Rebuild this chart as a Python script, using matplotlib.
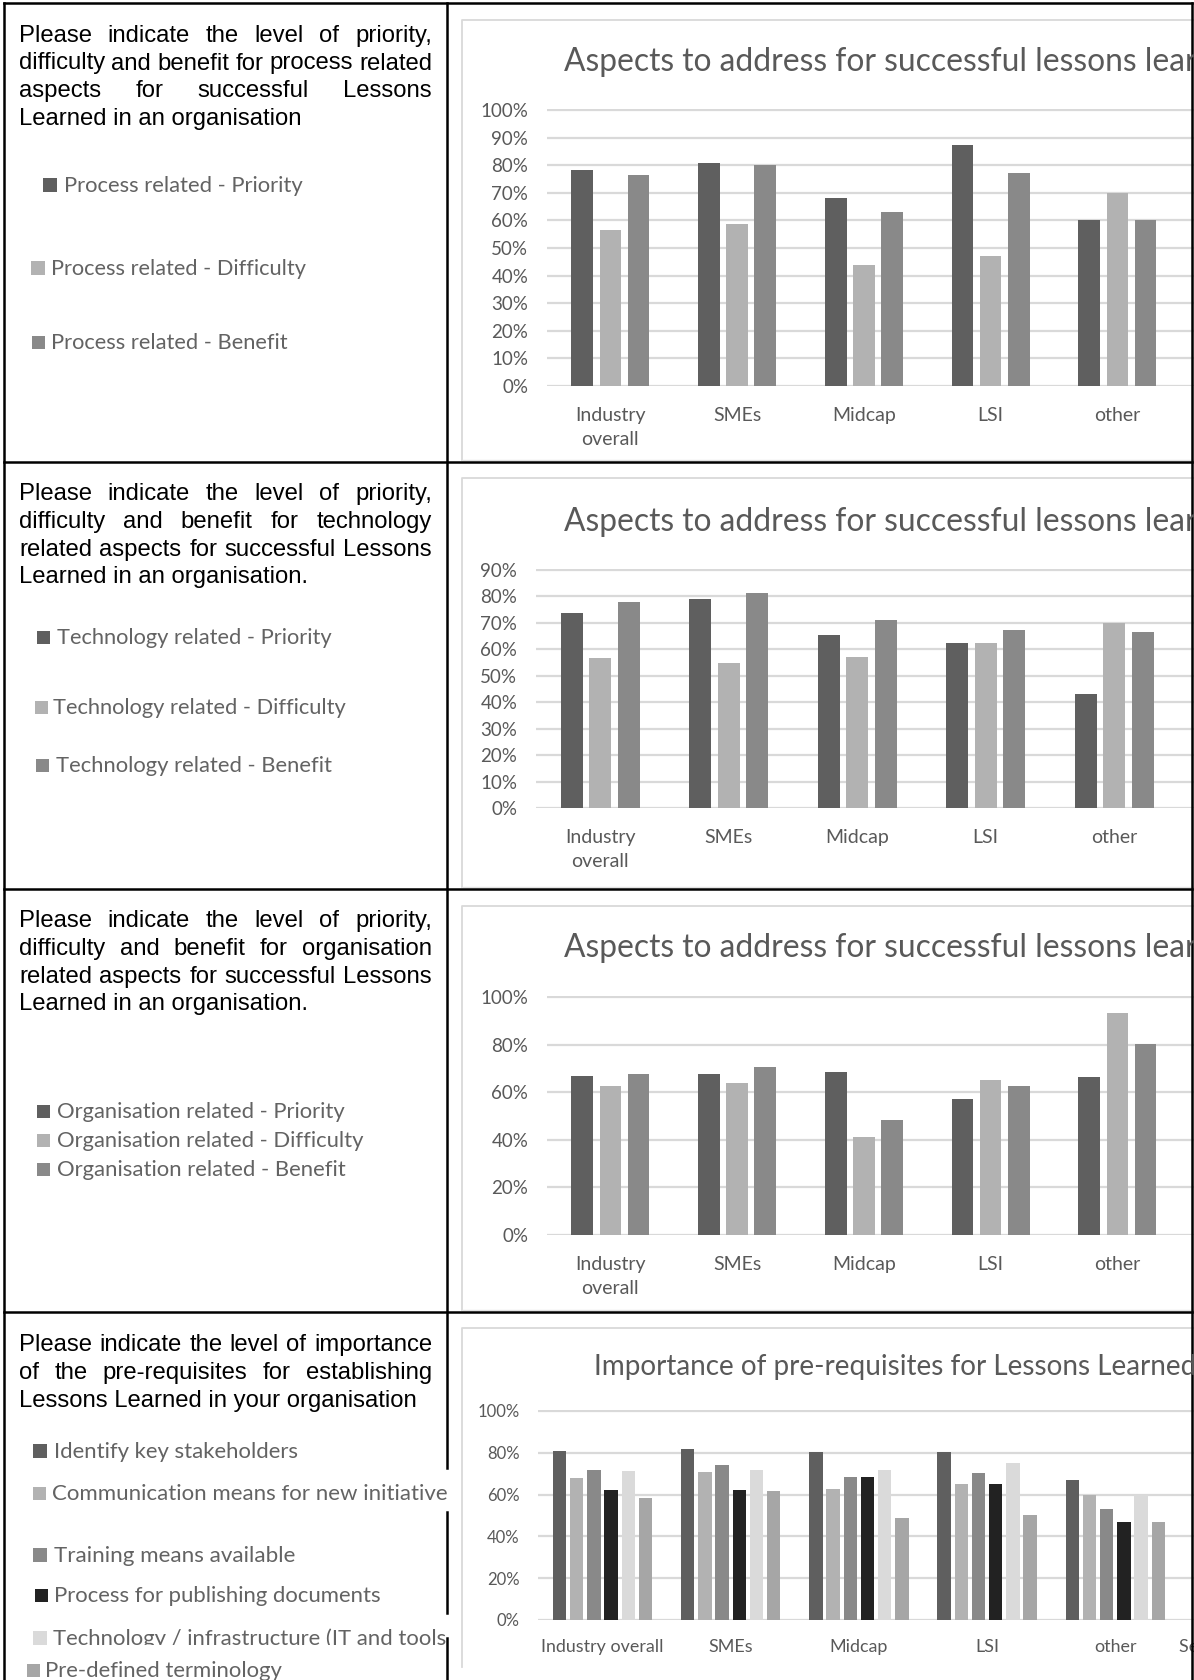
import matplotlib
matplotlib.use("Agg")
import matplotlib.pyplot as plt
import numpy as np
from matplotlib.patches import Rectangle
from matplotlib.ticker import PercentFormatter
from matplotlib.transforms import Bbox

W, H = 1194, 1680

# survey data (% of respondents); the last group sits past the right edge
groups_wrapped = ["Industry\noverall", "SMEs", "Midcap", "LSI", "other", ""]
groups = ["Industry overall", "SMEs", "Midcap", "LSI", "other", "Service provider"]

process_priority = [78.4, 81.0, 68.3, 87.3, 60.0]
process_difficulty = [56.6, 58.7, 44.0, 47.3, 70.0]
process_benefit = [76.4, 80.1, 62.9, 77.2, 60.0]

technology_priority = [73.7, 79.0, 65.5, 62.3, 43.1]
technology_difficulty = [56.7, 54.9, 57.1, 62.3, 69.8]
technology_benefit = [77.7, 81.1, 71.1, 67.2, 66.3]

organisation_priority = [66.9, 67.5, 68.5, 57.3, 66.5]
organisation_difficulty = [62.6, 64.0, 41.3, 65.1, 93.3]
organisation_benefit = [67.5, 70.4, 48.5, 62.6, 80.2]

identify_stakeholders = [80.6, 81.6, 80.2, 80.2, 66.7]
communication_means = [68.1, 70.6, 62.7, 65.1, 60.0]
training_means = [71.7, 74.1, 68.6, 70.2, 53.3]
publishing_process = [62.2, 62.2, 68.6, 65.1, 46.7]
technology_infrastructure = [71.1, 71.7, 71.7, 75.1, 60.0]
predefined_terminology = [58.1, 61.6, 48.6, 50.2, 46.7]

grey3 = ["#5f5f5f", "#b2b2b2", "#898989"]
grey6 = ["#5f5f5f", "#b2b2b2", "#898989", "#222222", "#dadada", "#a6a6a6"]

CHART_FONT = "Lato"
TEXT_COLOR = "#595959"
LEGEND_COLOR = "#636363"

fig = plt.figure(figsize=(W / 100, H / 100), dpi=100)
renderer = fig.canvas.get_renderer()


def fx(x):
    return x / W


def fy(y):
    return 1 - y / H


def px_box(x, y, w, h):
    return [x / W, 1 - (y + h) / H, w / W, h / H]


def fit_width(t, width):
    t.set_fontsize(t.get_fontsize() * width / t.get_window_extent(renderer).width)
    return t


def bar_chart(left, top, bottom, slot, ymax, step, series, colors, width, pitch,
              labels, tick_size, label_size, label_pad, linespacing=1.5):
    ax = fig.add_axes(px_box(left, top, slot * 6, bottom - top))
    x = np.arange(len(series[0]))
    n = len(series)
    for i, (vals, c) in enumerate(zip(series, colors)):
        ax.bar(x + (i - (n - 1) / 2) * pitch, np.array(vals) / 100, width,
               color=c, zorder=3)
    ax.set_xlim(-0.5, 5.5)
    ax.set_ylim(0, ymax + 0.004)
    ax.set_yticks(np.arange(0, ymax + 1e-9, step))
    ax.yaxis.set_major_formatter(PercentFormatter(1.0, decimals=0))
    ax.grid(axis="y", color="#d9d9d9", lw=1.6, zorder=0)
    for s in ax.spines.values():
        s.set_visible(False)
    ax.set_xticks(range(6))
    ax.set_xticklabels(labels, linespacing=linespacing)
    ax.tick_params(length=0, colors=TEXT_COLOR)
    ax.tick_params(axis="y", pad=13.5, labelsize=tick_size)
    ax.tick_params(axis="x", pad=label_pad, labelsize=label_size)
    for lab in ax.get_xticklabels() + ax.get_yticklabels():
        lab.set_fontfamily(CHART_FONT)
    ax.patch.set_alpha(0)
    return ax


def chart_frame(left, top, bottom):
    fig.add_artist(plt.Line2D([fx(left), fx(left), 1.0], [fy(bottom), fy(top), fy(top)],
                              color="#d9d9d9", lw=1.3))
    fig.add_artist(plt.Line2D([fx(left), 1.0], [fy(bottom), fy(bottom)],
                              color="#e3e3e3", lw=1.0))


def paragraph(lines, baseline, x0=19, x1=432, pitch=27.8, size=17.2):
    for k, line in enumerate(lines):
        y = fy(baseline + k * pitch)
        words = line.split(" ")
        if k == len(lines) - 1:
            fig.text(fx(x0), y, line, fontsize=size, family="Liberation Sans",
                     va="baseline", color="black")
            continue
        arts = [fig.text(0, y, w, fontsize=size, family="Liberation Sans",
                         va="baseline", color="black") for w in words]
        widths = [a.get_window_extent(renderer).width for a in arts]
        gap = (x1 - x0 - sum(widths)) / (len(words) - 1)
        x = x0
        for a, w in zip(arts, widths):
            a.set_x(fx(x))
            x += w + gap


def legend_entry(label, color, box_x0, box_x1, text_x, baseline, width,
                 clip=None):
    side = box_x1 - box_x0
    fig.add_artist(Rectangle((fx(box_x0), fy(baseline)), side / W, side / H,
                             transform=fig.transFigure, color=color, lw=0))
    t = fig.text(fx(text_x), fy(baseline), label, fontsize=14, family=CHART_FONT,
                 va="baseline", color=LEGEND_COLOR)
    fit_width(t, width)
    if clip is not None:
        x0, y0, x1, y1 = clip
        t.set_clip_box(Bbox([[x0, H - y1], [x1, H - y0]]))
        t.set_clip_on(True)
    return t


# ---- panel 1: process related ----
chart_frame(462, 20, 460)
bar_chart(547, 109, 386, 126.75, 1.0, 0.1,
          [process_priority, process_difficulty, process_benefit], grey3,
          0.171, 0.2225, groups_wrapped, 13.5, 14, 15)
fig.text(fx(564), fy(62), "Aspects to address for successful lessons learned",
         fontsize=22.9, family=CHART_FONT, color=TEXT_COLOR, va="center")
paragraph(["Please indicate the level of priority,",
           "difficulty and benefit for process related",
           "aspects for successful Lessons",
           "Learned in an organisation"], 41.7)
legend_entry("Process related - Priority", grey3[0], 43, 57, 64, 191.5, 240)
legend_entry("Process related - Difficulty", grey3[1], 31, 45, 51, 275, 255)
legend_entry("Process related - Benefit", grey3[2], 32, 45, 51, 349, 238)

# ---- panel 2: technology related ----
chart_frame(462, 478, 887)
bar_chart(536, 568.7, 808, 128.5, 0.9, 0.1,
          [technology_priority, technology_difficulty, technology_benefit], grey3,
          0.171, 0.22, groups_wrapped, 13.5, 14, 15)
fig.text(fx(564), fy(522), "Aspects to address for successful lessons learned",
         fontsize=22.9, family=CHART_FONT, color=TEXT_COLOR, va="center")
paragraph(["Please indicate the level of priority,",
           "difficulty and benefit for technology",
           "related aspects for successful Lessons",
           "Learned in an organisation."], 500)
legend_entry("Technology related - Priority", grey3[0], 37, 50, 57, 644, 277)
legend_entry("Technology related - Difficulty", grey3[1], 35, 48, 53, 714, 295)
legend_entry("Technology related - Benefit", grey3[2], 36, 49, 56, 772, 276)

# ---- panel 3: organisation related ----
chart_frame(462, 906, 1310)
bar_chart(547, 996, 1235, 126.75, 1.0, 0.2,
          [organisation_priority, organisation_difficulty, organisation_benefit], grey3,
          0.171, 0.2225, groups_wrapped, 13.5, 14, 15)
fig.text(fx(564), fy(948), "Aspects to address for successful lessons learned",
         fontsize=22.9, family=CHART_FONT, color=TEXT_COLOR, va="center")
paragraph(["Please indicate the level of priority,",
           "difficulty and benefit for organisation",
           "related aspects for successful Lessons",
           "Learned in an organisation."], 927)
legend_entry("Organisation related - Priority", grey3[0], 37, 50, 57, 1118, 290)
legend_entry("Organisation related - Difficulty", grey3[1], 37, 50, 57, 1147, 307)
legend_entry("Organisation related - Benefit", grey3[2], 37, 50, 57, 1176, 289)

# ---- panel 4: pre-requisites ----
fig.add_artist(plt.Line2D([fx(462), fx(462), 1.0], [fy(1667), fy(1328), fy(1328)],
                          color="#d9d9d9", lw=1.3))
bar_chart(538.4, 1410, 1620, 128.2, 1.0, 0.2,
          [identify_stakeholders, communication_means, training_means,
           publishing_process, technology_infrastructure, predefined_terminology],
          grey6, 0.104, 0.134, groups, 12, 12.9, 14)
fig.text(fx(594), fy(1367), "Importance of pre-requisites for Lessons Learned",
         fontsize=20.1, family=CHART_FONT, color=TEXT_COLOR, va="center")
paragraph(["Please indicate the level of importance",
           "of the pre-requisites for establishing",
           "Lessons Learned in your organisation"], 1351)
legend_entry("Identify key stakeholders", grey6[0], 33, 47, 54, 1458, 245)
legend_entry("Communication means for new initiative", grey6[1], 33, 46, 52, 1500, 395)
legend_entry("Training means available", grey6[2], 33, 47, 54, 1562, 241)
legend_entry("Process for publishing documents", grey6[3], 35, 48, 54, 1602, 329)
legend_entry("Technology / infrastructure (IT and tools", grey6[4], 33, 47, 53, 1645,
             394, clip=(0, 1610, 449, 1645))
legend_entry("Pre-defined terminology", grey6[5], 27, 40, 45, 1677, 238)

# ---- table grid ----
def hline(y, x0=4, x1=1192):
    fig.add_artist(plt.Line2D([fx(x0), fx(x1)], [fy(y), fy(y)], color="black", lw=1.8))


def vline(x, y0, y1):
    fig.add_artist(plt.Line2D([fx(x), fx(x)], [fy(y0), fy(y1)], color="black", lw=1.8))


for y in [3, 462, 889, 1312]:
    hline(y)
vline(4, 3, 1680)
vline(1192, 3, 1680)
vline(447, 3, 1468)
vline(447, 1512, 1613)
vline(447, 1638, 1680)

fig.savefig("out.png", dpi=100)
